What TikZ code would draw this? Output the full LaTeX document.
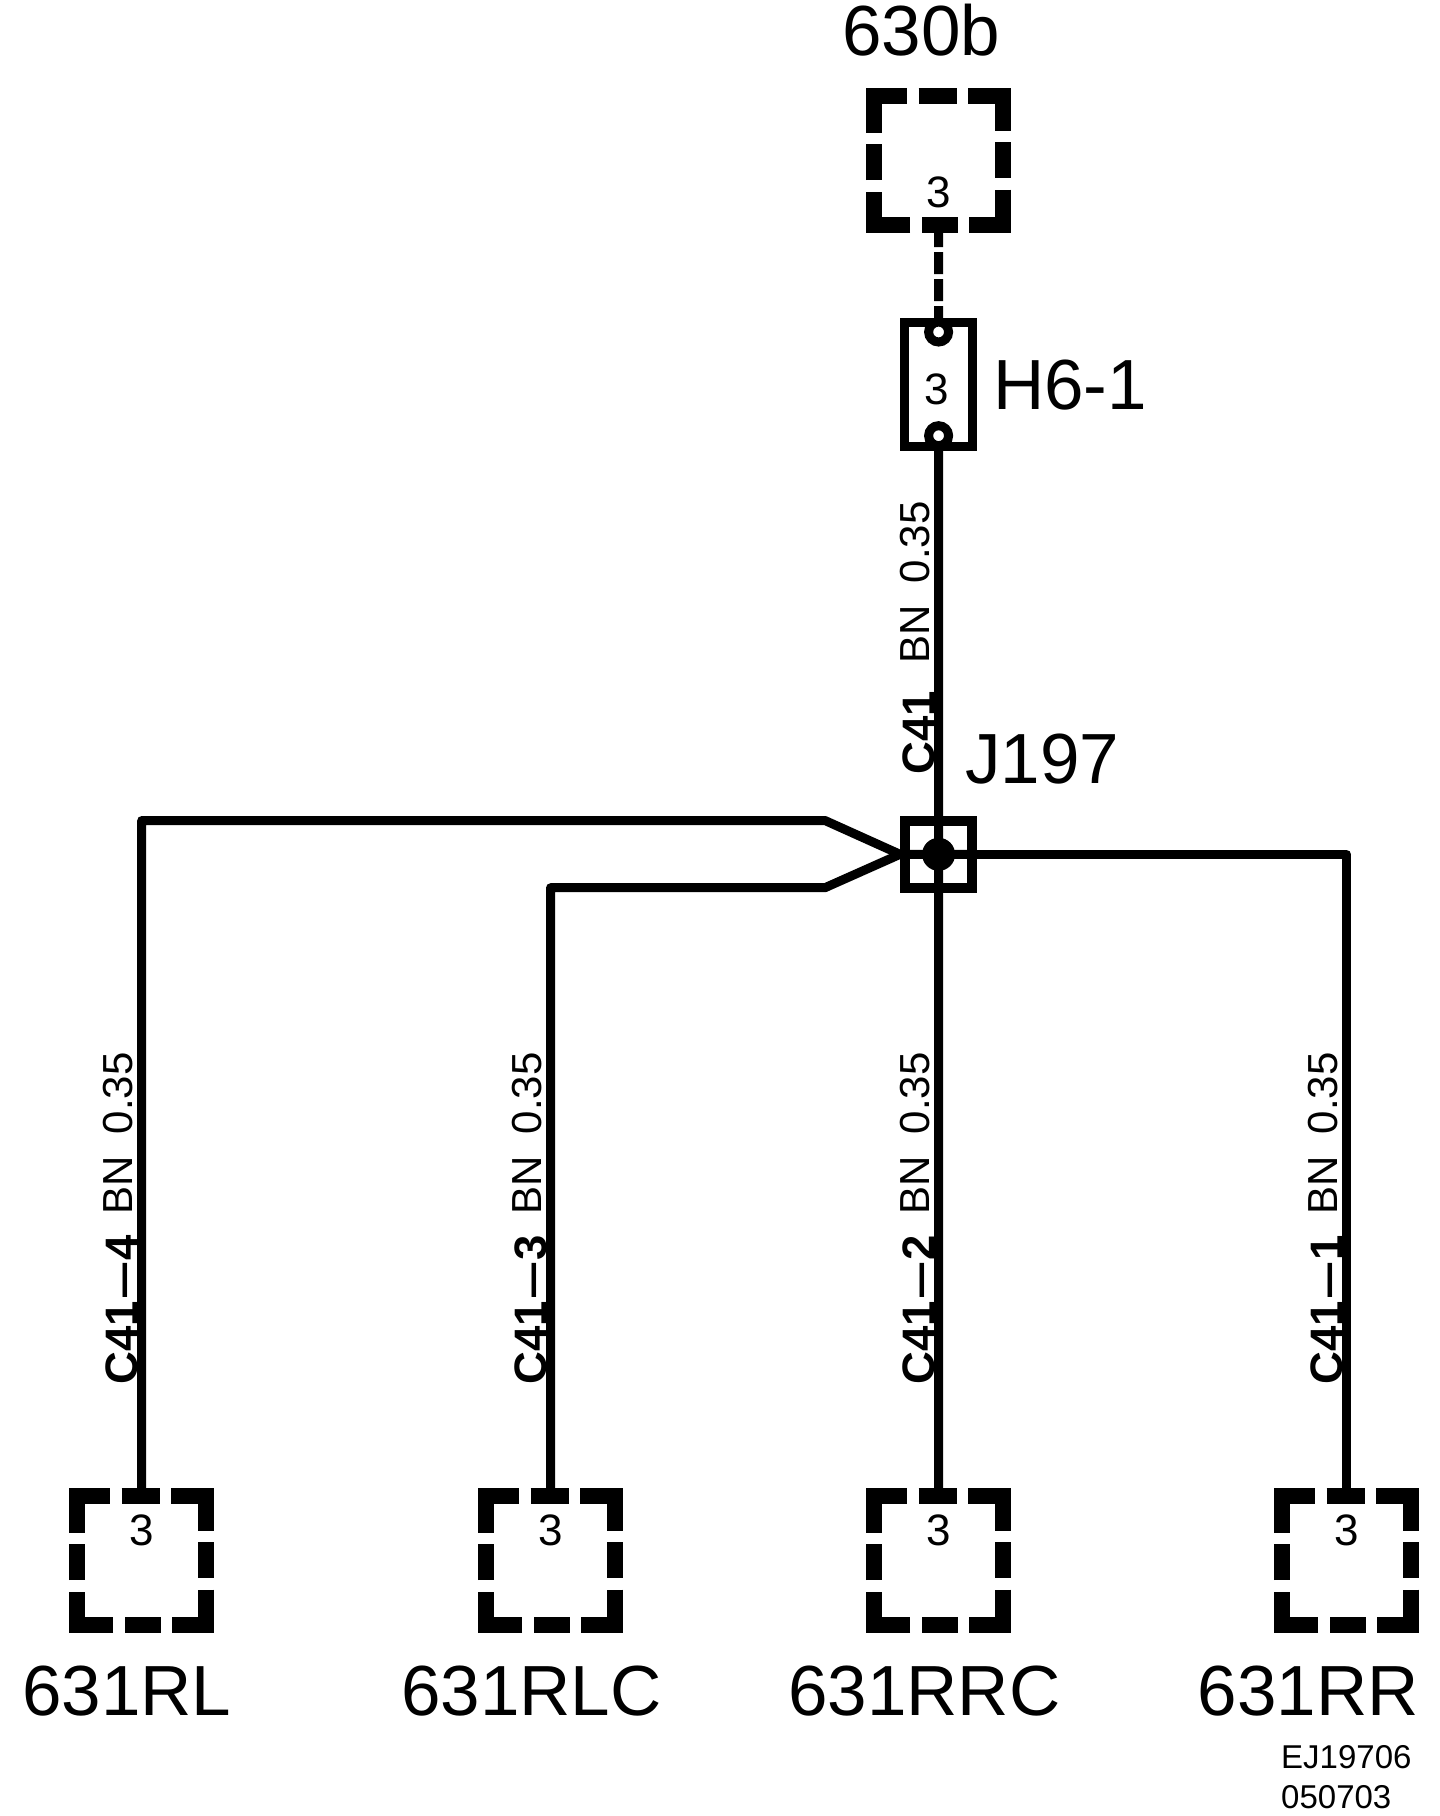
\documentclass[tikz,border=0pt]{standalone}
\usepackage{fontspec}
\setmainfont{Liberation Sans}
\usetikzlibrary{positioning}
\tikzset{
  wire/.style={line width=9pt,line join=round},
  dashwire/.style={wire,dash pattern=on 22pt off 5pt},
  termline/.style={line width=16pt,dash pattern=on 36pt off 11.5pt on 69.5pt off 11.5pt},
  termnode/.style={minimum size=129pt,inner sep=0pt,outer sep=0pt},
  pinnode/.style={circle,draw,fill=white,line width=9pt,minimum size=20pt,inner sep=0pt,outer sep=0pt},
  bigtext/.style={font=\fontsize{71}{71}\selectfont,inner sep=0pt,anchor=base west},
  numtext/.style={font=\fontsize{44}{44}\selectfont,inner sep=0pt,anchor=base},
  codetext/.style={font=\fontsize{33}{33}\selectfont,inner sep=0pt,anchor=base west},
  wiretext/.style={font=\fontsize{42}{42}\selectfont,inner sep=0pt,rotate=90,anchor=base west},
  circuittext/.style={font=\fontsize{45.5}{45.5}\bfseries\selectfont,inner sep=0pt,rotate=90,anchor=base west}
}
\begin{document}
\begin{tikzpicture}[x=1pt,y=-1pt]
    \useasboundingbox (0,0) rectangle (1440,1816);

    % terminals
    \foreach \n/\x/\y/\numy in {t630b/938.5/160.5/207, tRL/141.7/1560.5/1545, tRLC/550.5/1560.5/1545, tRRC/938.5/1560.5/1545, tRR/1346.7/1560.5/1545} {
        \node[termnode] (\n) at (\x,\y) {};
        \draw[termline] (\x-18,\y-64.5) -- (\x+64.5,\y-64.5) -- (\x+64.5,\y+64.5) -- (\x-64.5,\y+64.5) -- (\x-64.5,\y-64.5) -- cycle;
        \node[numtext] (\n num) at (\x,\numy) {3};
    }

    % terminal names
    \node[bigtext] (name630b) at (842,55) {630b};
    \node[bigtext] (nameRL) at (22,1715) {631RL};
    \node[bigtext] (nameRLC) at (401,1715) {631RLC};
    \node[bigtext] (nameRRC) at (788,1715) {631RRC};
    \node[bigtext] (nameRR) at (1197.5,1715) {631RR};

    % connector H6-1
    \node[draw,line width=9pt,minimum width=68pt,minimum height=124pt,inner sep=0pt,outer sep=0pt] (h6) at (938.5,384.5) {};
    \node[pinnode] (pintop) at (938.6,332) {};
    \node[pinnode] (pinbot) at (938.6,435.7) {};
    \node[numtext] (h6num) at (937,404) {3};
    \node[bigtext] (h6name) at (993,409) {H6-1};

    % joint J197
    \node[draw,line width=10pt,minimum size=67pt,inner sep=0pt,outer sep=0pt] (j197) at (938.5,854.5) {};
    \node[circle,fill,minimum size=33pt,inner sep=0pt] (j197dot) at (938.6,854.3) {};
    \node[bigtext] (j197name) at (965,783) {J197};

    % wires
    \coordinate (tip) at (900,854.3);
    \coordinate (bendRL) at (825,820.5);
    \coordinate (bendRLC) at (825,887.7);
    \draw[dashwire] (t630b.south) -- (pintop.north);
    \draw[wire] (pinbot.south) -- (tRRC.north);
    \draw[wire] (tip) -- (j197.east);
    \draw[wire] (j197.east) -| (tRR.north);
    \draw[wire] (tRL.north) |- (bendRL) -- (tip);
    \draw[wire] (tRLC.north) |- (bendRLC) -- (tip);

    % wire labels
    \foreach \n/\x/\c in {RL/141.7/4, RLC/550.5/3, RRC/938.5/2, RR/1346.7/1} {
        \node[wiretext] (size\n) at (\x-9,1134.5) {0.35};
        \node[wiretext] (color\n) at (\x-9,1215) {BN};
        \node[circuittext] (circuit\n) at (\x-4.2,1385) {C41\kern4pt\scalebox{0.75}[1]{---}\kern3pt\c};
    }
    \node[wiretext] (sizetop) at (929.5,583.5) {0.35};
    \node[wiretext] (colortop) at (929.5,664) {BN};
    \node[circuittext] (circuittop) at (934.3,775) {C41};

    % drawing code
    \node[codetext] (code) at (1281,1768.5) {EJ19706};
    \node[codetext] (date) at (1281,1808.5) {050703};
\end{tikzpicture}
\end{document}
